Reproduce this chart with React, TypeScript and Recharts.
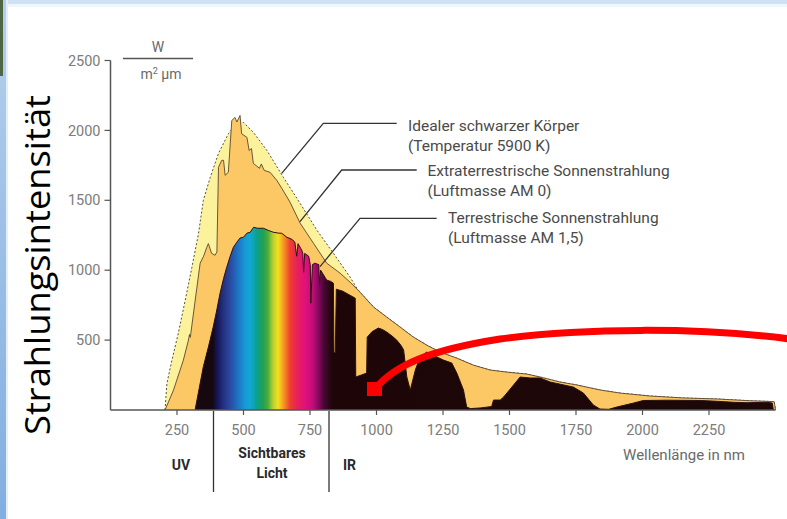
import React from "react";
import { ComposedChart, Area, XAxis, YAxis } from "recharts";

// Wavelength (nm) and intensity (W / m² µm)
const BLACKBODY: [number, number][] = [
  [205, 0], [212, 190], [231, 357], [255, 550], [281, 786], [306, 1021], [331, 1264], [349, 1500],
  [375, 1664], [406, 1836], [443, 1976], [475, 2050], [500, 2057], [537, 1986], [588, 1857],
  [650, 1664], [713, 1478], [776, 1286], [838, 1121], [901, 950], [926, 871], [938, 843],
  [989, 736], [1039, 664], [1089, 593], [1139, 521], [1189, 464], [1239, 414], [1302, 371],
  [1364, 321], [1427, 286], [1490, 271], [1565, 257], [1615, 236], [1690, 200], [1753, 179],
  [1841, 143], [1916, 121], [2029, 100], [2154, 86], [2279, 79], [2405, 66], [2495, 60], [2500, 0],
];

const AM0: [number, number][] = [
  [205, 0], [237, 143], [274, 357], [293, 500], [297, 540], [300, 520], [325, 879], [337, 1050],
  [350, 1100], [362, 1164], [368, 1190], [380, 1121], [393, 1107], [400, 1130], [406, 1736],
  [418, 1786], [425, 1786], [431, 1679], [443, 1700], [456, 2071], [468, 2093], [475, 2060],
  [487, 2107], [493, 1976], [513, 1950], [521, 1857], [530, 1870], [537, 1764], [560, 1729],
  [567, 1760], [578, 1714], [600, 1700], [625, 1643], [644, 1586], [675, 1486], [713, 1336],
  [763, 1193], [813, 1050], [863, 979], [901, 914], [938, 843], [989, 736], [1039, 664],
  [1089, 593], [1139, 521], [1189, 464], [1239, 414], [1302, 371], [1364, 321], [1427, 286],
  [1490, 271], [1565, 257], [1615, 236], [1690, 200], [1753, 179], [1841, 143], [1916, 121],
  [2029, 100], [2154, 86], [2279, 79], [2405, 66], [2495, 60], [2500, 0],
];

const AM15: [number, number][] = [
  [318, 0], [333, 150], [349, 310], [368, 450], [386, 593], [398, 700], [412, 836], [425, 940],
  [437, 1021], [450, 1100], [462, 1164], [475, 1200], [487, 1230], [500, 1236], [513, 1265],
  [525, 1271], [538, 1307], [553, 1300], [575, 1300], [593, 1285], [613, 1271], [633, 1265],
  [644, 1264], [663, 1236], [683, 1220], [693, 1200], [700, 1100], [705, 1190], [719, 1143],
  [723, 1120], [726, 986], [730, 1120], [745, 1100], [751, 1040], [753, 764], [759, 1040],
  [768, 1050], [783, 1040], [786, 900], [790, 1000], [813, 929], [828, 920], [838, 907],
  [840, 410], [845, 410], [849, 864], [873, 850], [920, 800], [922, 236], [943, 250], [963, 264],
  [965, 521], [983, 560], [1007, 586], [1023, 575], [1039, 557], [1058, 530], [1076, 500],
  [1093, 460], [1102, 429], [1114, 236], [1127, 143], [1146, 286], [1164, 379], [1189, 414],
  [1208, 400], [1227, 379], [1252, 357], [1283, 336], [1302, 264], [1327, 143], [1339, 21],
  [1353, 10], [1393, 15], [1433, 25], [1440, 71], [1465, 71], [1478, 93], [1540, 236],
  [1578, 229], [1615, 229], [1653, 200], [1740, 164], [1778, 121], [1815, 36], [1840, 7],
  [1873, 5], [1903, 21], [1967, 50], [2003, 68], [2093, 70], [2217, 68], [2283, 62], [2343, 55],
  [2393, 52], [2468, 55], [2488, 50], [2492, 0],
];

const WAVELENGTH_TICKS = [250, 500, 750, 1000, 1250, 1500, 1750, 2000, 2250];
const INTENSITY_TICKS = [500, 1000, 1500, 2000, 2500];

// visible-light colour bands (wavelength nm -> colour) for the AM 1.5 fill
const SPECTRUM_STOPS: [number, string][] = [
  [0, "#1c0808"], [385, "#160810"], [400, "#151555"], [423, "#24307e"], [449, "#2a48a0"],
  [476, "#1f70c0"], [506, "#1798d4"], [524, "#10a8d6"], [551, "#0ca08e"], [573, "#22a050"],
  [592, "#4cac3e"], [611, "#b8d030"], [630, "#f2e020"], [648, "#f7a020"], [675, "#ee4030"],
  [701, "#e8205a"], [731, "#e0127c"], [758, "#c80c7a"], [780, "#8a0a60"], [803, "#480634"],
  [833, "#1e0608"], [2500, "#1c0808"],
];

const W = 787;
const H = 519;
const PLOT_LEFT = 110.5;
const PLOT_TOP = 60.5;
const PLOT_W = 665;
const PLOT_H = 349.5;

function buildRows() {
  const map = new Map<number, any>();
  const add = (key: string, arr: [number, number][]) => {
    arr.forEach(([nm, v]) => {
      const row = map.get(nm) || { nm };
      row[key] = v;
      map.set(nm, row);
    });
  };
  add("bb", BLACKBODY);
  add("am0", AM0);
  add("am15", AM15);
  return Array.from(map.values()).sort((a, b) => a.nm - b.nm);
}

const rows = buildRows();

const tickFont = { fontFamily: "Roboto, sans-serif", fontSize: 14.5, fill: "#7c7c7c" };
const annFont = { fontFamily: "Roboto, sans-serif", fontSize: 15.5, fill: "#4a4a4a" };

export default function App() {
  return (
    <div style={{ position: "absolute", left: 0, top: 0, width: W, height: H, background: "#ffffff", overflow: "hidden" }}>
      <svg width={W} height={H} style={{ position: "absolute", left: 0, top: 0 }}>
        <defs>
          <linearGradient id="leftEdge" x1="0" y1="0" x2="0" y2="1">
            <stop offset="0" stopColor="#b4cfec" />
            <stop offset="1" stopColor="#82aee0" />
          </linearGradient>
        </defs>
        <rect x={0} y={0} width={W} height={4} fill="#d0e1f2" />
        <rect x={0} y={4} width={W} height={3} fill="#eef5fb" />
        <rect x={0} y={0} width={6} height={H} fill="url(#leftEdge)" />
        <rect x={6} y={0} width={2} height={H} fill="#e4eef8" />
        <rect x={0} y={0} width={3} height={76} fill="#4f6644" />
      </svg>

      <div style={{ position: "absolute", left: 0, top: 0 }}>
        <ComposedChart
          width={W}
          height={H}
          data={rows}
          margin={{ top: PLOT_TOP, right: W - PLOT_LEFT - PLOT_W, bottom: H - PLOT_TOP - PLOT_H - 30, left: 0 }}
        >
          <defs>
            <linearGradient id="spectrum" gradientUnits="userSpaceOnUse" x1={PLOT_LEFT} y1={0} x2={PLOT_LEFT + PLOT_W} y2={0}>
              {SPECTRUM_STOPS.map(([nm, c]) => (
                <stop key={nm} offset={nm / 2500} stopColor={c} />
              ))}
            </linearGradient>
          </defs>
          <XAxis
            type="number"
            dataKey="nm"
            domain={[0, 2500]}
            ticks={WAVELENGTH_TICKS}
            height={30}
            axisLine={{ stroke: "#555", strokeWidth: 1.5 }}
            tickLine={{ stroke: "#555", strokeWidth: 1.2 }}
            tickSize={5}
            tickMargin={10}
            tick={tickFont}
            interval={0}
          />
          <YAxis
            type="number"
            domain={[0, 2500]}
            ticks={INTENSITY_TICKS}
            width={PLOT_LEFT}
            axisLine={{ stroke: "#555", strokeWidth: 1.5 }}
            tickLine={{ stroke: "#555", strokeWidth: 1.2 }}
            tickSize={6}
            tickMargin={4}
            tick={tickFont}
            interval={0}
          />
          <Area
            type="linear"
            dataKey="bb"
            connectNulls
            isAnimationActive={false}
            fill="#fcf29c"
            fillOpacity={1}
            stroke="#55503a"
            strokeWidth={1}
            strokeDasharray="2 2"
            dot={false}
            activeDot={false}
          />
          <Area
            type="linear"
            dataKey="am0"
            connectNulls
            isAnimationActive={false}
            fill="#fcc865"
            fillOpacity={1}
            stroke="#5a4630"
            strokeWidth={0.9}
            dot={false}
            activeDot={false}
          />
          <Area
            type="linear"
            dataKey="am15"
            connectNulls
            isAnimationActive={false}
            fill="url(#spectrum)"
            fillOpacity={1}
            stroke="#2a1010"
            strokeWidth={1}
            dot={false}
            activeDot={false}
          />
        </ComposedChart>
      </div>

      <svg width={W} height={H} style={{ position: "absolute", left: 0, top: 0, pointerEvents: "none" }}>
        {/* Unit */}
        <text x={158} y={52} textAnchor="middle" style={{ fontFamily: "Roboto, sans-serif", fontSize: 14, fill: "#6a6a6a" }}>W</text>
        <line x1={123} y1={58.5} x2={193} y2={58.5} stroke="#555" strokeWidth={1.3} />
        <text x={161} y={79} textAnchor="middle" style={{ fontFamily: "Roboto, sans-serif", fontSize: 14, fill: "#6a6a6a" }}>
          m<tspan fontSize={9} dy={-5}>2</tspan><tspan dy={5}> µm</tspan>
        </text>

        {/* Y axis title */}
        <text
          transform="translate(50,265) rotate(-90)"
          textAnchor="middle"
          textLength={340}
          lengthAdjust="spacingAndGlyphs"
          style={{ fontFamily: "'Open Sans', sans-serif", fontSize: 34, fill: "#000" }}
        >
          Strahlungsintensität
        </text>

        {/* Leader lines */}
        <polyline points="281.7,173.3 323.3,123.3 396.7,123.3" fill="none" stroke="#333" strokeWidth={1.3} />
        <polyline points="300,221.7 341.7,170 416.7,170" fill="none" stroke="#333" strokeWidth={1.3} />
        <polyline points="320,266.7 360,218.3 436.7,218.3" fill="none" stroke="#333" strokeWidth={1.3} />

        <text x={408} y={130.5} style={annFont}>Idealer schwarzer Körper</text>
        <text x={408} y={150.5} style={annFont}>(Temperatur 5900 K)</text>
        <text x={427.5} y={175.5} style={annFont}>Extraterrestrische Sonnenstrahlung</text>
        <text x={427.5} y={195.5} style={annFont}>(Luftmasse AM 0)</text>
        <text x={448} y={222.5} style={annFont}>Terrestrische Sonnenstrahlung</text>
        <text x={448} y={242.5} style={annFont}>(Luftmasse AM 1,5)</text>

        {/* Band separators and labels */}
        <line x1={213.5} y1={411} x2={213.5} y2={492} stroke="#333" strokeWidth={1.3} />
        <line x1={329} y1={411} x2={329} y2={492} stroke="#333" strokeWidth={1.3} />
        <text x={181} y={470} textAnchor="middle" style={{ fontFamily: "Roboto, sans-serif", fontSize: 14, fontWeight: 700, fill: "#2a2a2a" }}>UV</text>
        <text x={272} y={458} textAnchor="middle" style={{ fontFamily: "Roboto, sans-serif", fontSize: 14, fontWeight: 700, fill: "#2a2a2a" }}>Sichtbares</text>
        <text x={272} y={478} textAnchor="middle" style={{ fontFamily: "Roboto, sans-serif", fontSize: 14, fontWeight: 700, fill: "#2a2a2a" }}>Licht</text>
        <text x={343} y={470} style={{ fontFamily: "Roboto, sans-serif", fontSize: 14, fontWeight: 700, fill: "#2a2a2a" }}>IR</text>
        <text x={684} y={460} textAnchor="middle" style={{ fontFamily: "Roboto, sans-serif", fontSize: 15, fill: "#6a6a6a" }}>Wellenlänge in nm</text>

        {/* Red annotation */}
        <path d="M 376 388 C 395 365, 430 350, 500 339 C 580 328, 700 327, 790 339" fill="none" stroke="#ff0000" strokeWidth={7} />
        <rect x={367} y={382} width={15} height={14} fill="#ff0000" />
      </svg>
    </div>
  );
}
